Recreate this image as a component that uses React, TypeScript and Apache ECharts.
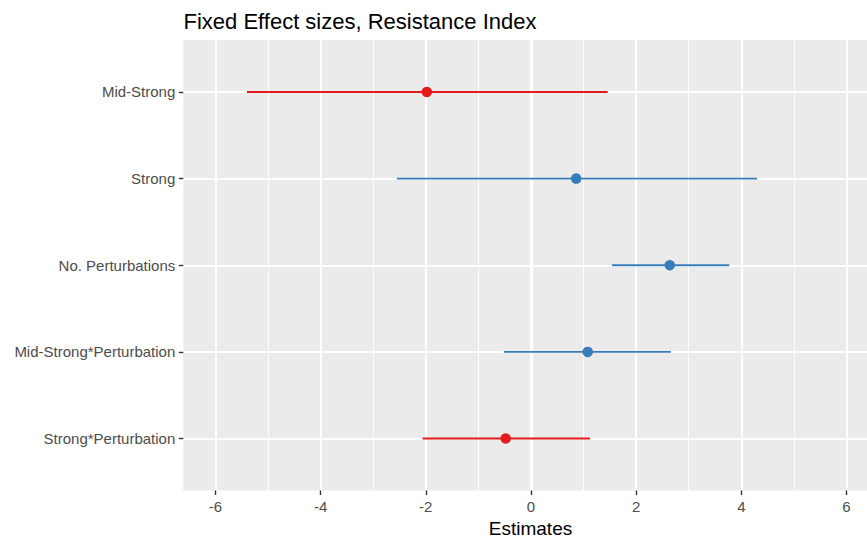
import React, { useEffect, useRef } from "react";
import * as echarts from "echarts";

// Model terms, top to bottom
const terms = [
  "Mid-Strong",
  "Strong",
  "No. Perturbations",
  "Mid-Strong*Perturbation",
  "Strong*Perturbation",
];
// Point estimates and confidence limits
const estimates = [-1.98, 0.86, 2.64, 1.08, -0.48];
const lower = [-5.4, -2.55, 1.54, -0.51, -2.06];
const upper = [1.46, 4.3, 3.77, 2.66, 1.12];

const xMajorTicks = [-6, -4, -2, 0, 2, 4, 6];
const xMinorTicks = [-5, -3, -1, 1, 3, 5];
const zeroLine = [0];
const rowTicks = [0, 1, 2, 3, 4];

const NEG = "#E41A1C";
const POS = "#377EB8";
const FONT = "'Liberation Sans', Arial, sans-serif";

const X_MIN = -6.61;
const X_MAX = 6.39;

// helper axis that only draws white vertical grid lines at given values
const gridOnlyAxis = (values: number[], width: number) => ({
  type: "value",
  min: X_MIN,
  max: X_MAX,
  position: "bottom",
  axisLine: { show: false, onZero: false },
  axisTick: { show: false, customValues: values },
  axisLabel: { show: false, customValues: values },
  splitLine: { show: true, lineStyle: { color: "#FFFFFF", width } },
});

export default function App() {
  const ref = useRef<HTMLDivElement>(null);

  useEffect(() => {
    if (!ref.current) return;
    const chart = echarts.init(ref.current, undefined, { renderer: "svg" });
    const colorOf = (v: number) => (v < 0 ? NEG : POS);

    chart.setOption({
      animation: false,
      backgroundColor: "#FFFFFF",
      textStyle: { fontFamily: FONT },
      grid: {
        left: 183.3,
        top: 40,
        width: 683.7,
        height: 450.5,
        show: true,
        backgroundColor: "#EBEBEB",
        borderWidth: 0,
      },
      xAxis: [
        {
          type: "value",
          min: X_MIN,
          max: X_MAX,
          position: "bottom",
          axisLine: { show: false, onZero: false },
          axisTick: {
            show: true,
            customValues: xMajorTicks,
            length: 4.5,
            lineStyle: { color: "#333333", width: 1.4 },
          },
          axisLabel: {
            customValues: xMajorTicks,
            color: "#4D4D4D",
            fontSize: 15,
            fontFamily: FONT,
            margin: 8,
          },
          splitLine: { show: true, lineStyle: { color: "#FFFFFF", width: 1.9 } },
        },
        gridOnlyAxis(xMinorTicks, 0.95),
        gridOnlyAxis(zeroLine, 3.2),
      ],
      yAxis: {
        type: "value",
        inverse: true,
        min: -0.6,
        max: 4.6,
        position: "left",
        axisLine: { show: false, onZero: false },
        axisTick: {
          show: true,
          customValues: rowTicks,
          length: 4.5,
          lineStyle: { color: "#333333", width: 1.4 },
        },
        axisLabel: {
          customValues: rowTicks,
          formatter: (v: number) => terms[Math.round(v)] ?? "",
          color: "#4D4D4D",
          fontSize: 15,
          fontFamily: FONT,
          margin: 8,
        },
        splitLine: { show: true, lineStyle: { color: "#FFFFFF", width: 1.9 } },
      },
      graphic: [
        {
          type: "text",
          left: 183.5,
          top: 10,
          style: {
            text: "Fixed Effect sizes, Resistance Index",
            fill: "#000000",
            font: `22px ${FONT}`,
          },
        },
        {
          type: "text",
          x: 530.5,
          y: 528,
          style: {
            text: "Estimates",
            fill: "#000000",
            font: `19px ${FONT}`,
            align: "center",
            verticalAlign: "middle",
          },
        },
      ],
      series: [
        {
          type: "custom",
          z: 3,
          encode: { x: [0, 1], y: 2 },
          data: terms.map((_, i) => ({
            value: [lower[i], upper[i], i],
            itemStyle: { color: colorOf(estimates[i]) },
          })),
          renderItem: (params: any, api: any) => {
            const a = api.coord([api.value(0), api.value(2)]);
            const b = api.coord([api.value(1), api.value(2)]);
            return {
              type: "line",
              shape: { x1: a[0], y1: a[1], x2: b[0], y2: b[1] },
              style: { stroke: api.visual("color"), lineWidth: 1.9 },
            };
          },
        },
        {
          type: "scatter",
          z: 4,
          symbol: "circle",
          symbolSize: 10.5,
          data: terms.map((_, i) => ({
            value: [estimates[i], i],
            itemStyle: { color: colorOf(estimates[i]), opacity: 1 },
          })),
        },
      ],
    });

    return () => chart.dispose();
  }, []);

  return (
    <div
      ref={ref}
      style={{ position: "fixed", left: 0, top: 0, width: 867, height: 540 }}
    />
  );
}
